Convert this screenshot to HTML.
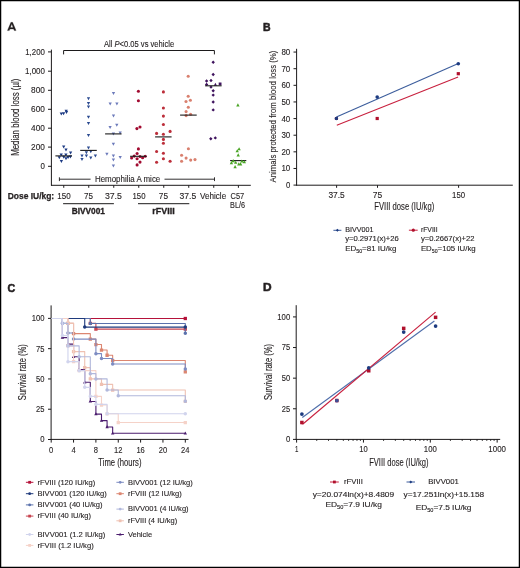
<!DOCTYPE html>
<html><head><meta charset="utf-8"><style>
html,body{margin:0;padding:0;background:#fff;}
body{width:520px;height:568px;overflow:hidden;}
svg{display:block;will-change:transform;}
text{font-family:"Liberation Sans", sans-serif;stroke:#231f20;stroke-width:0.12px;paint-order:stroke;}
</style></head><body>
<svg width="520" height="568" viewBox="0 0 520 568" font-family='"Liberation Sans", sans-serif' fill="#231f20">
<rect x="0" y="0" width="520" height="568" fill="#fff"/>
<path d="M7.4,30.6L10.9,22.3L12.6,22.3L16.1,30.6L14.2,30.6L13.55,29.1L9.95,29.1L9.3,30.6ZM10.45,27.6L13.05,27.6L11.75,24.1Z" fill="#231f20" fill-rule="evenodd" stroke="#231f20" stroke-width="0.25"/>
<line x1="51.40" y1="49.60" x2="51.40" y2="185.70" stroke="#1c1a1b" stroke-width="#1c1a1b"1.2/>
<line x1="48.00" y1="51.90" x2="51.40" y2="51.90" stroke="#1c1a1b" stroke-width="1"/>
<text x="44.90" y="54.85" font-size="8.6" text-anchor="end" textLength="19.70" lengthAdjust="spacingAndGlyphs">1,200</text>
<line x1="48.00" y1="71.20" x2="51.40" y2="71.20" stroke="#1c1a1b" stroke-width="1"/>
<text x="44.90" y="74.15" font-size="8.6" text-anchor="end" textLength="19.90" lengthAdjust="spacingAndGlyphs">1,000</text>
<line x1="48.00" y1="90.30" x2="51.40" y2="90.30" stroke="#1c1a1b" stroke-width="1"/>
<text x="44.90" y="93.25" font-size="8.6" text-anchor="end" textLength="13.80" lengthAdjust="spacingAndGlyphs">800</text>
<line x1="48.00" y1="109.30" x2="51.40" y2="109.30" stroke="#1c1a1b" stroke-width="1"/>
<text x="44.90" y="112.25" font-size="8.6" text-anchor="end" textLength="13.80" lengthAdjust="spacingAndGlyphs">600</text>
<line x1="48.00" y1="128.20" x2="51.40" y2="128.20" stroke="#1c1a1b" stroke-width="1"/>
<text x="44.90" y="131.15" font-size="8.6" text-anchor="end" textLength="13.80" lengthAdjust="spacingAndGlyphs">400</text>
<line x1="48.00" y1="147.10" x2="51.40" y2="147.10" stroke="#1c1a1b" stroke-width="1"/>
<text x="44.90" y="150.05" font-size="8.6" text-anchor="end" textLength="13.80" lengthAdjust="spacingAndGlyphs">200</text>
<line x1="48.00" y1="166.30" x2="51.40" y2="166.30" stroke="#1c1a1b" stroke-width="1"/>
<text x="44.90" y="169.25" font-size="8.6" text-anchor="end" textLength="4.40" lengthAdjust="spacingAndGlyphs">0</text>
<line x1="51.00" y1="185.30" x2="250.80" y2="185.30" stroke="#1c1a1b" stroke-width="#1c1a1b"1.2/>
<line x1="63.75" y1="185.30" x2="63.75" y2="187.80" stroke="#1c1a1b" stroke-width="1"/>
<line x1="88.75" y1="185.30" x2="88.75" y2="187.80" stroke="#1c1a1b" stroke-width="1"/>
<line x1="113.75" y1="185.30" x2="113.75" y2="187.80" stroke="#1c1a1b" stroke-width="1"/>
<line x1="138.75" y1="185.30" x2="138.75" y2="187.80" stroke="#1c1a1b" stroke-width="1"/>
<line x1="163.75" y1="185.30" x2="163.75" y2="187.80" stroke="#1c1a1b" stroke-width="1"/>
<line x1="188.75" y1="185.30" x2="188.75" y2="187.80" stroke="#1c1a1b" stroke-width="1"/>
<line x1="213.75" y1="185.30" x2="213.75" y2="187.80" stroke="#1c1a1b" stroke-width="1"/>
<line x1="238.40" y1="185.30" x2="238.40" y2="187.80" stroke="#1c1a1b" stroke-width="1"/>
<text x="18.90" y="117.25" font-size="10.1" text-anchor="middle" textLength="77.20" lengthAdjust="spacingAndGlyphs" transform="rotate(-90 18.90 117.25)">Median blood loss (µl)</text>
<path d="M63.6,54.4V50.5H214.4V54.4" stroke="#1c1a1b" stroke-width="1" fill="none"/>
<text x="103.90" y="47.30" font-size="8.5" textLength="70.30" lengthAdjust="spacingAndGlyphs">All <tspan font-style="italic">P</tspan>&lt;0.05 vs vehicle</text>
<path d="M59.4,177.3V181.1M59.4,179.2H90.6M164.5,179.2H214.5M214.5,177.3V181.1" stroke="#1c1a1b" stroke-width="0.9" fill="none"/>
<text x="94.90" y="182.10" font-size="8.6" textLength="65.40" lengthAdjust="spacingAndGlyphs">Hemophilia A mice</text>
<text x="7.70" y="198.50" font-size="8.3" font-weight="bold" textLength="46.50" lengthAdjust="spacingAndGlyphs" style="stroke-width:0.25px">Dose IU/kg:</text>
<text x="64.00" y="198.60" font-size="8.5" text-anchor="middle" textLength="13.40" lengthAdjust="spacingAndGlyphs">150</text>
<text x="88.60" y="198.60" font-size="8.5" text-anchor="middle" textLength="9.00" lengthAdjust="spacingAndGlyphs">75</text>
<text x="113.40" y="198.60" font-size="8.5" text-anchor="middle" textLength="17.00" lengthAdjust="spacingAndGlyphs">37.5</text>
<text x="139.00" y="198.60" font-size="8.5" text-anchor="middle" textLength="13.00" lengthAdjust="spacingAndGlyphs">150</text>
<text x="163.40" y="198.60" font-size="8.5" text-anchor="middle" textLength="9.20" lengthAdjust="spacingAndGlyphs">75</text>
<text x="187.90" y="198.60" font-size="8.5" text-anchor="middle" textLength="16.70" lengthAdjust="spacingAndGlyphs">37.5</text>
<text x="213.10" y="198.60" font-size="8.5" text-anchor="middle" textLength="26.20" lengthAdjust="spacingAndGlyphs">Vehicle</text>
<text x="237.40" y="198.60" font-size="8.5" text-anchor="middle" textLength="13.70" lengthAdjust="spacingAndGlyphs">C57</text>
<text x="237.60" y="207.80" font-size="8.5" text-anchor="middle" textLength="15.00" lengthAdjust="spacingAndGlyphs">BL/6</text>
<line x1="63.10" y1="203.70" x2="113.90" y2="203.70" stroke="#1c1a1b" stroke-width="1"/>
<line x1="138.00" y1="203.70" x2="189.30" y2="203.70" stroke="#1c1a1b" stroke-width="1"/>
<text x="88.30" y="213.50" font-size="8.2" font-weight="bold" text-anchor="middle" textLength="33.20" lengthAdjust="spacingAndGlyphs" style="stroke-width:0.3px">BIVV001</text>
<text x="163.50" y="213.50" font-size="8.2" font-weight="bold" text-anchor="middle" textLength="22.30" lengthAdjust="spacingAndGlyphs" style="stroke-width:0.3px">rFVIII</text>
<path d="M59.65,112.61L62.95,112.61L61.30,115.58ZM61.95,112.31L65.25,112.31L63.60,115.28ZM64.55,109.81L67.85,109.81L66.20,112.78ZM64.85,111.11L68.15,111.11L66.50,114.08ZM62.05,145.51L65.35,145.51L63.70,148.49ZM64.35,148.61L67.65,148.61L66.00,151.59ZM68.95,151.41L72.25,151.41L70.60,154.39ZM59.55,153.51L62.85,153.51L61.20,156.49ZM64.25,153.51L67.55,153.51L65.90,156.49ZM57.65,156.31L60.95,156.31L59.30,159.29ZM62.05,155.71L65.35,155.71L63.70,158.69ZM64.35,157.21L67.65,157.21L66.00,160.19ZM66.45,156.01L69.75,156.01L68.10,158.99ZM68.75,155.41L72.05,155.41L70.40,158.39ZM59.75,160.01L63.05,160.01L61.40,162.99Z" stroke="none" stroke-width="0" fill="#1d3b84"/>
<line x1="55.40" y1="155.90" x2="72.00" y2="155.90" stroke="#1a1a1a" stroke-width="1.1"/>
<path d="M86.85,97.22L90.15,97.22L88.50,100.19ZM86.85,102.02L90.15,102.02L88.50,104.98ZM86.85,105.52L90.15,105.52L88.50,108.48ZM86.85,115.81L90.15,115.81L88.50,118.78ZM86.85,121.92L90.15,121.92L88.50,124.89ZM86.85,134.11L90.15,134.11L88.50,137.09ZM86.85,146.41L90.15,146.41L88.50,149.39ZM89.15,150.31L92.45,150.31L90.80,153.29ZM84.75,151.31L88.05,151.31L86.40,154.29ZM80.35,154.51L83.65,154.51L82.00,157.49ZM84.75,154.51L88.05,154.51L86.40,157.49ZM93.75,154.51L97.05,154.51L95.40,157.49ZM80.35,158.01L83.65,158.01L82.00,160.99ZM89.15,156.61L92.45,156.61L90.80,159.59Z" stroke="none" stroke-width="0" fill="#2c4b91"/>
<line x1="80.20" y1="150.40" x2="96.80" y2="150.40" stroke="#1a1a1a" stroke-width="1.1"/>
<path d="M111.85,92.11L115.15,92.11L113.50,95.08ZM108.55,102.52L111.85,102.52L110.20,105.48ZM115.25,102.52L118.55,102.52L116.90,105.48ZM111.85,114.52L115.15,114.52L113.50,117.48ZM115.15,123.72L118.45,123.72L116.80,126.69ZM108.45,126.02L111.75,126.02L110.10,128.99ZM111.75,132.61L115.05,132.61L113.40,135.59ZM118.55,131.51L121.85,131.51L120.20,134.49ZM111.75,142.71L115.05,142.71L113.40,145.69ZM105.25,152.81L108.55,152.81L106.90,155.79ZM111.75,154.41L115.05,154.41L113.40,157.39ZM118.55,155.91L121.85,155.91L120.20,158.89ZM111.75,158.61L115.05,158.61L113.40,161.59ZM111.75,164.51L115.05,164.51L113.40,167.49Z" stroke="none" stroke-width="0" fill="#6d7bbb"/>
<line x1="105.10" y1="133.90" x2="121.60" y2="133.90" stroke="#1a1a1a" stroke-width="1.1"/>
<circle cx="138.40" cy="91.30" r="1.55" fill="#a10a30"/>
<circle cx="138.40" cy="100.70" r="1.55" fill="#a10a30"/>
<circle cx="140.00" cy="127.00" r="1.55" fill="#a10a30"/>
<circle cx="136.90" cy="128.60" r="1.55" fill="#a10a30"/>
<circle cx="138.40" cy="148.90" r="1.55" fill="#a10a30"/>
<circle cx="137.10" cy="153.50" r="1.55" fill="#a10a30"/>
<circle cx="134.20" cy="156.10" r="1.55" fill="#a10a30"/>
<circle cx="131.60" cy="158.00" r="1.55" fill="#a10a30"/>
<circle cx="137.10" cy="158.70" r="1.55" fill="#a10a30"/>
<circle cx="140.00" cy="156.50" r="1.55" fill="#a10a30"/>
<circle cx="142.60" cy="157.70" r="1.55" fill="#a10a30"/>
<circle cx="145.20" cy="156.30" r="1.55" fill="#a10a30"/>
<circle cx="140.00" cy="162.10" r="1.55" fill="#a10a30"/>
<circle cx="137.10" cy="164.90" r="1.55" fill="#a10a30"/>
<line x1="130.10" y1="156.30" x2="146.60" y2="156.30" stroke="#1a1a1a" stroke-width="1.1"/>
<circle cx="163.40" cy="91.90" r="1.55" fill="#bc2e3a"/>
<circle cx="163.40" cy="108.00" r="1.55" fill="#bc2e3a"/>
<circle cx="163.40" cy="116.10" r="1.55" fill="#bc2e3a"/>
<circle cx="163.40" cy="124.50" r="1.55" fill="#bc2e3a"/>
<circle cx="170.10" cy="131.40" r="1.55" fill="#bc2e3a"/>
<circle cx="156.60" cy="133.40" r="1.55" fill="#bc2e3a"/>
<circle cx="163.40" cy="134.30" r="1.55" fill="#bc2e3a"/>
<circle cx="163.40" cy="139.40" r="1.55" fill="#bc2e3a"/>
<circle cx="163.40" cy="143.30" r="1.55" fill="#bc2e3a"/>
<circle cx="156.60" cy="151.50" r="1.55" fill="#bc2e3a"/>
<circle cx="163.40" cy="153.30" r="1.55" fill="#bc2e3a"/>
<circle cx="163.40" cy="158.70" r="1.55" fill="#bc2e3a"/>
<circle cx="156.60" cy="162.30" r="1.55" fill="#bc2e3a"/>
<circle cx="170.10" cy="161.20" r="1.55" fill="#bc2e3a"/>
<line x1="155.10" y1="136.90" x2="171.60" y2="136.90" stroke="#1a1a1a" stroke-width="1.1"/>
<circle cx="188.20" cy="76.30" r="1.55" fill="#d9806f"/>
<circle cx="188.20" cy="96.30" r="1.55" fill="#d9806f"/>
<circle cx="190.40" cy="100.20" r="1.55" fill="#d9806f"/>
<circle cx="186.00" cy="101.50" r="1.55" fill="#d9806f"/>
<circle cx="188.30" cy="107.20" r="1.55" fill="#d9806f"/>
<circle cx="186.10" cy="111.60" r="1.55" fill="#d9806f"/>
<circle cx="190.60" cy="114.20" r="1.55" fill="#d9806f"/>
<circle cx="186.10" cy="115.60" r="1.55" fill="#d9806f"/>
<circle cx="188.40" cy="148.80" r="1.55" fill="#d9806f"/>
<circle cx="181.60" cy="155.30" r="1.55" fill="#d9806f"/>
<circle cx="186.10" cy="158.10" r="1.55" fill="#d9806f"/>
<circle cx="190.70" cy="160.10" r="1.55" fill="#d9806f"/>
<circle cx="195.00" cy="159.60" r="1.55" fill="#d9806f"/>
<circle cx="181.60" cy="161.30" r="1.55" fill="#d9806f"/>
<line x1="180.10" y1="115.10" x2="196.70" y2="115.10" stroke="#1a1a1a" stroke-width="1.1"/>
<path d="M213.20,60.50L214.90,62.20L213.20,63.90L211.50,62.20ZM213.20,72.80L214.90,74.50L213.20,76.20L211.50,74.50ZM206.60,79.30L208.30,81.00L206.60,82.70L204.90,81.00ZM211.00,78.80L212.70,80.50L211.00,82.20L209.30,80.50ZM206.60,82.80L208.30,84.50L206.60,86.20L204.90,84.50ZM213.80,85.74L217.00,85.74L215.40,82.86ZM218.70,82.50h2.8v2.8h-2.8ZM211.00,85.40L212.70,87.10L211.00,88.80L209.30,87.10ZM213.20,89.00L214.90,90.70L213.20,92.40L211.50,90.70ZM213.20,93.40L214.90,95.10L213.20,96.80L211.50,95.10ZM213.20,100.30L214.90,102.00L213.20,103.70L211.50,102.00ZM213.20,108.20L214.90,109.90L213.20,111.60L211.50,109.90ZM210.80,137.10L212.50,138.80L210.80,140.50L209.10,138.80ZM215.30,136.20L217.00,137.90L215.30,139.60L213.60,137.90Z" stroke="none" stroke-width="0" fill="#40145f"/>
<line x1="205.10" y1="85.80" x2="221.60" y2="85.80" stroke="#1a1a1a" stroke-width="1.1"/>
<line x1="230.10" y1="160.60" x2="246.30" y2="160.60" stroke="#1a1a1a" stroke-width="1.1"/>
<path d="M236.20,106.43L239.60,106.43L237.90,103.37ZM237.40,150.23L240.80,150.23L239.10,147.17ZM235.50,152.33L238.90,152.33L237.20,149.27ZM236.50,156.43L239.90,156.43L238.20,153.37ZM229.70,164.13L233.10,164.13L231.40,161.07ZM231.50,162.13L234.90,162.13L233.20,159.07ZM234.00,163.83L237.40,163.83L235.70,160.77ZM237.10,165.43L240.50,165.43L238.80,162.37ZM238.90,165.43L242.30,165.43L240.60,162.37ZM240.20,162.53L243.60,162.53L241.90,159.47ZM242.60,163.23L246.00,163.23L244.30,160.17ZM233.40,168.13L236.80,168.13L235.10,165.07Z" stroke="none" stroke-width="0" fill="#4aa526"/>
<text x="263.00" y="30.70" font-size="11.5" font-weight="bold" textLength="7.60" lengthAdjust="spacingAndGlyphs" style="stroke-width:0.55px">B</text>
<line x1="296.60" y1="48.80" x2="296.60" y2="185.60" stroke="#1c1a1b" stroke-width="#1c1a1b"1.2/>
<line x1="293.50" y1="185.10" x2="296.60" y2="185.10" stroke="#1c1a1b" stroke-width="1"/>
<text x="290.30" y="188.05" font-size="8.6" text-anchor="end" textLength="4.30" lengthAdjust="spacingAndGlyphs">0</text>
<line x1="293.50" y1="168.47" x2="296.60" y2="168.47" stroke="#1c1a1b" stroke-width="1"/>
<text x="290.30" y="171.42" font-size="8.6" text-anchor="end" textLength="8.90" lengthAdjust="spacingAndGlyphs">10</text>
<line x1="293.50" y1="151.84" x2="296.60" y2="151.84" stroke="#1c1a1b" stroke-width="1"/>
<text x="290.30" y="154.79" font-size="8.6" text-anchor="end" textLength="8.90" lengthAdjust="spacingAndGlyphs">20</text>
<line x1="293.50" y1="135.21" x2="296.60" y2="135.21" stroke="#1c1a1b" stroke-width="1"/>
<text x="290.30" y="138.16" font-size="8.6" text-anchor="end" textLength="8.90" lengthAdjust="spacingAndGlyphs">30</text>
<line x1="293.50" y1="118.58" x2="296.60" y2="118.58" stroke="#1c1a1b" stroke-width="1"/>
<text x="290.30" y="121.53" font-size="8.6" text-anchor="end" textLength="8.90" lengthAdjust="spacingAndGlyphs">40</text>
<line x1="293.50" y1="101.95" x2="296.60" y2="101.95" stroke="#1c1a1b" stroke-width="1"/>
<text x="290.30" y="104.90" font-size="8.6" text-anchor="end" textLength="8.90" lengthAdjust="spacingAndGlyphs">50</text>
<line x1="293.50" y1="85.32" x2="296.60" y2="85.32" stroke="#1c1a1b" stroke-width="1"/>
<text x="290.30" y="88.27" font-size="8.6" text-anchor="end" textLength="8.90" lengthAdjust="spacingAndGlyphs">60</text>
<line x1="293.50" y1="68.69" x2="296.60" y2="68.69" stroke="#1c1a1b" stroke-width="1"/>
<text x="290.30" y="71.64" font-size="8.6" text-anchor="end" textLength="8.90" lengthAdjust="spacingAndGlyphs">70</text>
<line x1="293.50" y1="52.06" x2="296.60" y2="52.06" stroke="#1c1a1b" stroke-width="1"/>
<text x="290.30" y="55.01" font-size="8.6" text-anchor="end" textLength="8.90" lengthAdjust="spacingAndGlyphs">80</text>
<line x1="296.10" y1="185.20" x2="512.80" y2="185.20" stroke="#1c1a1b" stroke-width="#1c1a1b"1.2/>
<line x1="336.60" y1="185.20" x2="336.60" y2="187.80" stroke="#1c1a1b" stroke-width="1"/>
<text x="336.60" y="198.40" font-size="8.6" text-anchor="middle" textLength="16.30" lengthAdjust="spacingAndGlyphs">37.5</text>
<line x1="377.50" y1="185.20" x2="377.50" y2="187.80" stroke="#1c1a1b" stroke-width="1"/>
<text x="377.50" y="198.40" font-size="8.6" text-anchor="middle" textLength="9.40" lengthAdjust="spacingAndGlyphs">75</text>
<line x1="458.60" y1="185.20" x2="458.60" y2="187.80" stroke="#1c1a1b" stroke-width="1"/>
<text x="458.60" y="198.40" font-size="8.6" text-anchor="middle" textLength="13.00" lengthAdjust="spacingAndGlyphs">150</text>
<text x="374.30" y="210.30" font-size="10.0" textLength="59.90" lengthAdjust="spacingAndGlyphs">FVIII dose (IU/kg)</text>
<text x="275.80" y="116.55" font-size="9.8" text-anchor="middle" textLength="131.80" lengthAdjust="spacingAndGlyphs" transform="rotate(-90 275.80 116.55)">Animals protected from blood loss (%)</text>
<line x1="336.40" y1="116.90" x2="458.30" y2="63.60" stroke="#3c5d9c" stroke-width="1.1"/>
<line x1="336.80" y1="125.30" x2="458.10" y2="77.10" stroke="#c8203e" stroke-width="1.1"/>
<rect x="334.90" y="117.00" width="3" height="3" fill="#b0102c"/>
<rect x="375.60" y="116.90" width="3.2" height="3.2" fill="#b0102c"/>
<rect x="456.70" y="72.10" width="3.2" height="3.2" fill="#b0102c"/>
<circle cx="336.4" cy="118.5" r="1.7" fill="#1d3b80"/><circle cx="377.2" cy="97.1" r="1.8" fill="#1d3b80"/><circle cx="458.3" cy="63.7" r="1.8" fill="#1d3b80"/>
<line x1="333.40" y1="230.30" x2="341.40" y2="230.30" stroke="#3c5d9c" stroke-width="1"/>
<path d="M337.40,228.80L338.90,230.30L337.40,231.80L335.90,230.30Z" stroke="none" stroke-width="0" fill="#1d3b80"/>
<text x="345.20" y="232.20" font-size="6.9" textLength="28.30" lengthAdjust="spacingAndGlyphs">BIVV001</text>
<text x="345.20" y="241.30" font-size="6.9" textLength="53.60" lengthAdjust="spacingAndGlyphs">y=0.2971(x)+26</text>
<text x="345.20" y="251.10" font-size="6.9" textLength="51.10" lengthAdjust="spacingAndGlyphs">ED<tspan font-size="4.6" dy="1.6">50</tspan><tspan dy="-1.6">=81 IU/kg</tspan></text>
<line x1="408.90" y1="230.20" x2="417.70" y2="230.20" stroke="#c8203e" stroke-width="1"/>
<circle cx="413.3" cy="230.2" r="1.6" fill="#b0102c"/>
<text x="420.90" y="232.20" font-size="6.9" textLength="16.70" lengthAdjust="spacingAndGlyphs">rFVIII</text>
<text x="420.90" y="241.30" font-size="6.9" textLength="53.60" lengthAdjust="spacingAndGlyphs">y=0.2667(x)+22</text>
<text x="420.90" y="251.10" font-size="6.9" textLength="54.80" lengthAdjust="spacingAndGlyphs">ED<tspan font-size="4.6" dy="1.6">50</tspan><tspan dy="-1.6">=105 IU/kg</tspan></text>
<text x="7.40" y="291.50" font-size="11.5" font-weight="bold" textLength="7.70" lengthAdjust="spacingAndGlyphs" style="stroke-width:0.55px">C</text>
<line x1="51.10" y1="305.40" x2="51.10" y2="439.90" stroke="#1c1a1b" stroke-width="#1c1a1b"1.2/>
<line x1="48.00" y1="439.50" x2="51.10" y2="439.50" stroke="#1c1a1b" stroke-width="1"/>
<text x="44.50" y="442.45" font-size="8.6" text-anchor="end" textLength="4.30" lengthAdjust="spacingAndGlyphs">0</text>
<line x1="48.00" y1="409.22" x2="51.10" y2="409.22" stroke="#1c1a1b" stroke-width="1"/>
<text x="44.50" y="412.17" font-size="8.6" text-anchor="end" textLength="8.40" lengthAdjust="spacingAndGlyphs">25</text>
<line x1="48.00" y1="378.94" x2="51.10" y2="378.94" stroke="#1c1a1b" stroke-width="1"/>
<text x="44.50" y="381.89" font-size="8.6" text-anchor="end" textLength="8.40" lengthAdjust="spacingAndGlyphs">50</text>
<line x1="48.00" y1="348.66" x2="51.10" y2="348.66" stroke="#1c1a1b" stroke-width="1"/>
<text x="44.50" y="351.61" font-size="8.6" text-anchor="end" textLength="8.40" lengthAdjust="spacingAndGlyphs">75</text>
<line x1="48.00" y1="318.38" x2="51.10" y2="318.38" stroke="#1c1a1b" stroke-width="1"/>
<text x="44.50" y="321.33" font-size="8.6" text-anchor="end" textLength="12.80" lengthAdjust="spacingAndGlyphs">100</text>
<line x1="50.60" y1="439.40" x2="188.50" y2="439.40" stroke="#1c1a1b" stroke-width="#1c1a1b"1.2/>
<line x1="51.20" y1="439.40" x2="51.20" y2="442.60" stroke="#1c1a1b" stroke-width="1"/>
<text x="51.20" y="452.50" font-size="8.6" text-anchor="middle" textLength="4.20" lengthAdjust="spacingAndGlyphs">0</text>
<line x1="73.55" y1="439.40" x2="73.55" y2="442.60" stroke="#1c1a1b" stroke-width="1"/>
<text x="73.55" y="452.50" font-size="8.6" text-anchor="middle" textLength="4.20" lengthAdjust="spacingAndGlyphs">4</text>
<line x1="95.90" y1="439.40" x2="95.90" y2="442.60" stroke="#1c1a1b" stroke-width="1"/>
<text x="95.90" y="452.50" font-size="8.6" text-anchor="middle" textLength="4.20" lengthAdjust="spacingAndGlyphs">8</text>
<line x1="118.25" y1="439.40" x2="118.25" y2="442.60" stroke="#1c1a1b" stroke-width="1"/>
<text x="118.25" y="452.50" font-size="8.6" text-anchor="middle" textLength="8.40" lengthAdjust="spacingAndGlyphs">12</text>
<line x1="140.60" y1="439.40" x2="140.60" y2="442.60" stroke="#1c1a1b" stroke-width="1"/>
<text x="140.60" y="452.50" font-size="8.6" text-anchor="middle" textLength="8.40" lengthAdjust="spacingAndGlyphs">16</text>
<line x1="162.95" y1="439.40" x2="162.95" y2="442.60" stroke="#1c1a1b" stroke-width="1"/>
<text x="162.95" y="452.50" font-size="8.6" text-anchor="middle" textLength="8.40" lengthAdjust="spacingAndGlyphs">20</text>
<line x1="185.30" y1="439.40" x2="185.30" y2="442.60" stroke="#1c1a1b" stroke-width="1"/>
<text x="185.30" y="452.50" font-size="8.6" text-anchor="middle" textLength="8.40" lengthAdjust="spacingAndGlyphs">24</text>
<text x="98.30" y="466.00" font-size="10.0" textLength="43.20" lengthAdjust="spacingAndGlyphs">Time (hours)</text>
<text x="25.80" y="372.20" font-size="10.1" text-anchor="middle" textLength="55.90" lengthAdjust="spacingAndGlyphs" transform="rotate(-90 25.80 372.20)">Survival rate (%)</text>
<path d="M62.38,318.50H62.38V337.66H67.96V344.08H73.55V356.81H79.14V369.55H84.73V382.28H90.31V401.44H95.90V414.17H101.49V420.59H107.08V427.02H112.66V433.32H185.30" stroke="#4b1c6e" stroke-width="1.1" fill="none" stroke-linejoin="round"/>
<path d="M60.67,338.79L64.08,338.79L62.38,335.73ZM66.26,345.21L69.66,345.21L67.96,342.15ZM71.85,357.94L75.25,357.94L73.55,354.89ZM77.44,370.68L80.84,370.68L79.14,367.62ZM83.03,383.41L86.43,383.41L84.73,380.35ZM88.61,402.56L92.01,402.56L90.31,399.51ZM94.20,415.30L97.60,415.30L95.90,412.24ZM99.79,421.72L103.19,421.72L101.49,418.66ZM105.38,428.15L108.78,428.15L107.08,425.09ZM110.96,434.45L114.36,434.45L112.66,431.39ZM183.60,434.45L187.00,434.45L185.30,431.39Z" stroke="none" stroke-width="0" fill="#4b1c6e"/>
<path d="M90.31,318.50H185.30V318.50" stroke="#b5123a" stroke-width="1.1" fill="none" stroke-linejoin="round"/>
<path d="M183.65,316.85h3.3v3.3h-3.3Z" stroke="none" stroke-width="0" fill="#b5123a"/>
<path d="M90.31,318.50H90.31V323.35H95.90V329.11H185.30V329.11" stroke="#c7434f" stroke-width="1.1" fill="none" stroke-linejoin="round"/>
<path d="M88.66,321.70h3.3v3.3h-3.3ZM94.25,327.46h3.3v3.3h-3.3ZM183.65,327.46h3.3v3.3h-3.3Z" stroke="none" stroke-width="0" fill="#c7434f"/>
<path d="M84.73,318.50H90.31V323.47H185.30V333.17" stroke="#5a71ac" stroke-width="1.1" fill="none" stroke-linejoin="round"/>
<path d="M88.56,323.47a1.75,1.75 0 1,0 3.5,0a1.75,1.75 0 1,0 -3.5,0ZM183.55,333.17a1.75,1.75 0 1,0 3.5,0a1.75,1.75 0 1,0 -3.5,0Z" stroke="none" stroke-width="0" fill="#5a71ac"/>
<path d="M67.96,318.50H84.73V327.11H185.30V327.11" stroke="#1f3a7c" stroke-width="1.1" fill="none" stroke-linejoin="round"/>
<path d="M82.98,327.11a1.75,1.75 0 1,0 3.5,0a1.75,1.75 0 1,0 -3.5,0ZM183.55,327.11a1.75,1.75 0 1,0 3.5,0a1.75,1.75 0 1,0 -3.5,0Z" stroke="none" stroke-width="0" fill="#1f3a7c"/>
<path d="M67.96,318.50H67.96V323.35H73.55V333.66H90.31V339.11H95.90V344.57H101.49V350.02H107.08V355.24H112.66V360.57H185.30V371.85" stroke="#dc8671" stroke-width="1.1" fill="none" stroke-linejoin="round"/>
<path d="M66.31,321.70h3.3v3.3h-3.3ZM71.90,332.01h3.3v3.3h-3.3ZM88.66,337.46h3.3v3.3h-3.3ZM94.25,342.92h3.3v3.3h-3.3ZM99.84,348.38h3.3v3.3h-3.3ZM105.42,353.59h3.3v3.3h-3.3ZM111.01,358.92h3.3v3.3h-3.3ZM183.65,370.20h3.3v3.3h-3.3Z" stroke="none" stroke-width="0" fill="#dc8671"/>
<path d="M62.38,318.50H62.38V323.35H67.96V333.05H73.55V339.11H95.90V353.66H101.49V358.51H112.66V363.97H185.30V369.06" stroke="#7d8cc2" stroke-width="1.1" fill="none" stroke-linejoin="round"/>
<path d="M60.62,323.35a1.75,1.75 0 1,0 3.5,0a1.75,1.75 0 1,0 -3.5,0ZM66.21,333.05a1.75,1.75 0 1,0 3.5,0a1.75,1.75 0 1,0 -3.5,0ZM71.80,339.11a1.75,1.75 0 1,0 3.5,0a1.75,1.75 0 1,0 -3.5,0ZM94.15,353.66a1.75,1.75 0 1,0 3.5,0a1.75,1.75 0 1,0 -3.5,0ZM99.74,358.51a1.75,1.75 0 1,0 3.5,0a1.75,1.75 0 1,0 -3.5,0ZM110.91,363.97a1.75,1.75 0 1,0 3.5,0a1.75,1.75 0 1,0 -3.5,0ZM183.55,369.06a1.75,1.75 0 1,0 3.5,0a1.75,1.75 0 1,0 -3.5,0Z" stroke="none" stroke-width="0" fill="#7d8cc2"/>
<path d="M67.96,318.50H67.96V323.35H73.55V351.60H84.73V367.61H90.31V378.88H101.49V384.34H112.66V390.04H185.30V401.31" stroke="#efc1b2" stroke-width="1.1" fill="none" stroke-linejoin="round"/>
<path d="M66.31,321.70h3.3v3.3h-3.3ZM71.90,349.95h3.3v3.3h-3.3ZM83.08,365.96h3.3v3.3h-3.3ZM88.66,377.23h3.3v3.3h-3.3ZM99.84,382.69h3.3v3.3h-3.3ZM111.01,388.39h3.3v3.3h-3.3ZM183.65,399.66h3.3v3.3h-3.3Z" stroke="none" stroke-width="0" fill="#efc1b2"/>
<path d="M62.38,318.50H67.96V345.90H73.55V361.66H79.14V370.64H95.90V396.34H101.49V405.07H107.08V413.80H118.25V422.53H185.30" stroke="#f5d2c8" stroke-width="1.1" fill="none" stroke-linejoin="round"/>
<path d="M66.31,344.25h3.3v3.3h-3.3ZM71.90,360.01h3.3v3.3h-3.3ZM77.49,368.99h3.3v3.3h-3.3ZM94.25,394.69h3.3v3.3h-3.3ZM99.84,403.42h3.3v3.3h-3.3ZM105.42,412.15h3.3v3.3h-3.3ZM116.60,420.88h3.3v3.3h-3.3ZM183.65,420.88h3.3v3.3h-3.3Z" stroke="none" stroke-width="0" fill="#f5d2c8"/>
<path d="M62.38,318.50H62.38V323.35H67.96V345.90H79.14V356.69H90.31V373.67H95.90V378.88H107.08V390.04H118.25V395.74H185.30V401.31" stroke="#b1b8dc" stroke-width="1.1" fill="none" stroke-linejoin="round"/>
<path d="M60.62,323.35a1.75,1.75 0 1,0 3.5,0a1.75,1.75 0 1,0 -3.5,0ZM66.21,345.90a1.75,1.75 0 1,0 3.5,0a1.75,1.75 0 1,0 -3.5,0ZM77.39,356.69a1.75,1.75 0 1,0 3.5,0a1.75,1.75 0 1,0 -3.5,0ZM88.56,373.67a1.75,1.75 0 1,0 3.5,0a1.75,1.75 0 1,0 -3.5,0ZM94.15,378.88a1.75,1.75 0 1,0 3.5,0a1.75,1.75 0 1,0 -3.5,0ZM105.33,390.04a1.75,1.75 0 1,0 3.5,0a1.75,1.75 0 1,0 -3.5,0ZM116.50,395.74a1.75,1.75 0 1,0 3.5,0a1.75,1.75 0 1,0 -3.5,0ZM183.55,401.31a1.75,1.75 0 1,0 3.5,0a1.75,1.75 0 1,0 -3.5,0Z" stroke="none" stroke-width="0" fill="#b1b8dc"/>
<path d="M51.20,318.50H62.38V335.48H67.96V361.66H79.14V370.64H84.73V387.37H90.31V396.34H95.90V404.35H107.08V413.80H185.30" stroke="#d1d4ed" stroke-width="1.1" fill="none" stroke-linejoin="round"/>
<path d="M60.62,335.48a1.75,1.75 0 1,0 3.5,0a1.75,1.75 0 1,0 -3.5,0ZM66.21,361.66a1.75,1.75 0 1,0 3.5,0a1.75,1.75 0 1,0 -3.5,0ZM77.39,370.64a1.75,1.75 0 1,0 3.5,0a1.75,1.75 0 1,0 -3.5,0ZM82.98,387.37a1.75,1.75 0 1,0 3.5,0a1.75,1.75 0 1,0 -3.5,0ZM88.56,396.34a1.75,1.75 0 1,0 3.5,0a1.75,1.75 0 1,0 -3.5,0ZM94.15,404.35a1.75,1.75 0 1,0 3.5,0a1.75,1.75 0 1,0 -3.5,0ZM105.33,413.80a1.75,1.75 0 1,0 3.5,0a1.75,1.75 0 1,0 -3.5,0ZM183.55,413.80a1.75,1.75 0 1,0 3.5,0a1.75,1.75 0 1,0 -3.5,0Z" stroke="none" stroke-width="0" fill="#d1d4ed"/>
<line x1="25.90" y1="482.30" x2="33.40" y2="482.30" stroke="#b5123a" stroke-width="1"/>
<rect x="28.25" y="480.90" width="2.8" height="2.8" fill="#b5123a"/>
<text x="37.40" y="484.65" font-size="8.0" textLength="57.80" lengthAdjust="spacingAndGlyphs">rFVIII (120 IU/kg)</text>
<line x1="25.90" y1="493.70" x2="33.40" y2="493.70" stroke="#1f3a7c" stroke-width="1"/>
<circle cx="29.65" cy="493.70" r="1.4" fill="#1f3a7c"/>
<text x="37.40" y="496.05" font-size="8.0" textLength="69.40" lengthAdjust="spacingAndGlyphs">BIVV001 (120 IU/kg)</text>
<line x1="25.90" y1="504.90" x2="33.40" y2="504.90" stroke="#5a71ac" stroke-width="1"/>
<circle cx="29.65" cy="504.90" r="1.4" fill="#5a71ac"/>
<text x="37.40" y="507.25" font-size="8.0" textLength="65.20" lengthAdjust="spacingAndGlyphs">BIVV001 (40 IU/kg)</text>
<line x1="25.90" y1="516.10" x2="33.40" y2="516.10" stroke="#c7434f" stroke-width="1"/>
<rect x="28.25" y="514.70" width="2.8" height="2.8" fill="#c7434f"/>
<text x="37.40" y="518.45" font-size="8.0" textLength="53.60" lengthAdjust="spacingAndGlyphs">rFVIII (40 IU/kg)</text>
<line x1="25.90" y1="534.50" x2="33.40" y2="534.50" stroke="#d1d4ed" stroke-width="1"/>
<circle cx="29.65" cy="534.50" r="1.4" fill="#d1d4ed"/>
<text x="37.40" y="536.85" font-size="8.0" textLength="67.90" lengthAdjust="spacingAndGlyphs">BIVV001 (1.2 IU/kg)</text>
<line x1="25.90" y1="545.40" x2="33.40" y2="545.40" stroke="#f5d2c8" stroke-width="1"/>
<rect x="28.25" y="544.00" width="2.8" height="2.8" fill="#f5d2c8"/>
<text x="37.40" y="547.75" font-size="8.0" textLength="56.30" lengthAdjust="spacingAndGlyphs">rFVIII (1.2 IU/kg)</text>
<line x1="116.40" y1="482.30" x2="123.90" y2="482.30" stroke="#7d8cc2" stroke-width="1"/>
<circle cx="120.15" cy="482.30" r="1.4" fill="#7d8cc2"/>
<text x="127.90" y="484.65" font-size="8.0" textLength="64.90" lengthAdjust="spacingAndGlyphs">BIVV001 (12 IU/kg)</text>
<line x1="116.40" y1="493.70" x2="123.90" y2="493.70" stroke="#dc8671" stroke-width="1"/>
<rect x="118.75" y="492.30" width="2.8" height="2.8" fill="#dc8671"/>
<text x="127.90" y="496.05" font-size="8.0" textLength="53.90" lengthAdjust="spacingAndGlyphs">rFVIII (12 IU/kg)</text>
<line x1="116.40" y1="509.10" x2="123.90" y2="509.10" stroke="#b1b8dc" stroke-width="1"/>
<circle cx="120.15" cy="509.10" r="1.4" fill="#b1b8dc"/>
<text x="127.90" y="511.45" font-size="8.0" textLength="60.70" lengthAdjust="spacingAndGlyphs">BIVV001 (4 IU/kg)</text>
<line x1="116.40" y1="520.80" x2="123.90" y2="520.80" stroke="#efc1b2" stroke-width="1"/>
<rect x="118.75" y="519.40" width="2.8" height="2.8" fill="#efc1b2"/>
<text x="127.90" y="523.15" font-size="8.0" textLength="49.30" lengthAdjust="spacingAndGlyphs">rFVIII (4 IU/kg)</text>
<line x1="116.40" y1="534.50" x2="123.90" y2="534.50" stroke="#4b1c6e" stroke-width="1"/>
<path d="M118.65,535.55L121.65,535.55L120.15,532.85Z" stroke="none" stroke-width="0" fill="#4b1c6e"/>
<text x="127.90" y="536.85" font-size="8.0" textLength="24.20" lengthAdjust="spacingAndGlyphs">Vehicle</text>
<text x="262.90" y="291.30" font-size="11.5" font-weight="bold" textLength="8.60" lengthAdjust="spacingAndGlyphs" style="stroke-width:0.55px">D</text>
<line x1="296.20" y1="305.20" x2="296.20" y2="439.90" stroke="#1c1a1b" stroke-width="#1c1a1b"1.2/>
<line x1="293.00" y1="439.40" x2="296.20" y2="439.40" stroke="#1c1a1b" stroke-width="1"/>
<text x="290.20" y="442.35" font-size="8.6" text-anchor="end" textLength="4.30" lengthAdjust="spacingAndGlyphs">0</text>
<line x1="293.00" y1="408.78" x2="296.20" y2="408.78" stroke="#1c1a1b" stroke-width="1"/>
<text x="290.20" y="411.73" font-size="8.6" text-anchor="end" textLength="8.40" lengthAdjust="spacingAndGlyphs">25</text>
<line x1="293.00" y1="378.16" x2="296.20" y2="378.16" stroke="#1c1a1b" stroke-width="1"/>
<text x="290.20" y="381.11" font-size="8.6" text-anchor="end" textLength="8.40" lengthAdjust="spacingAndGlyphs">50</text>
<line x1="293.00" y1="347.54" x2="296.20" y2="347.54" stroke="#1c1a1b" stroke-width="1"/>
<text x="290.20" y="350.49" font-size="8.6" text-anchor="end" textLength="8.40" lengthAdjust="spacingAndGlyphs">75</text>
<line x1="293.00" y1="316.92" x2="296.20" y2="316.92" stroke="#1c1a1b" stroke-width="1"/>
<text x="290.20" y="319.87" font-size="8.6" text-anchor="end" textLength="12.90" lengthAdjust="spacingAndGlyphs">100</text>
<line x1="295.70" y1="439.40" x2="500.20" y2="439.40" stroke="#1c1a1b" stroke-width="#1c1a1b"1.2/>
<line x1="316.72" y1="439.40" x2="316.72" y2="441.00" stroke="#1c1a1b" stroke-width="0.8"/>
<line x1="328.50" y1="439.40" x2="328.50" y2="441.00" stroke="#1c1a1b" stroke-width="0.8"/>
<line x1="336.85" y1="439.40" x2="336.85" y2="441.00" stroke="#1c1a1b" stroke-width="0.8"/>
<line x1="343.33" y1="439.40" x2="343.33" y2="441.00" stroke="#1c1a1b" stroke-width="0.8"/>
<line x1="348.62" y1="439.40" x2="348.62" y2="441.00" stroke="#1c1a1b" stroke-width="0.8"/>
<line x1="353.09" y1="439.40" x2="353.09" y2="441.00" stroke="#1c1a1b" stroke-width="0.8"/>
<line x1="356.97" y1="439.40" x2="356.97" y2="441.00" stroke="#1c1a1b" stroke-width="0.8"/>
<line x1="360.39" y1="439.40" x2="360.39" y2="441.00" stroke="#1c1a1b" stroke-width="0.8"/>
<line x1="383.57" y1="439.40" x2="383.57" y2="441.00" stroke="#1c1a1b" stroke-width="0.8"/>
<line x1="395.35" y1="439.40" x2="395.35" y2="441.00" stroke="#1c1a1b" stroke-width="0.8"/>
<line x1="403.70" y1="439.40" x2="403.70" y2="441.00" stroke="#1c1a1b" stroke-width="0.8"/>
<line x1="410.18" y1="439.40" x2="410.18" y2="441.00" stroke="#1c1a1b" stroke-width="0.8"/>
<line x1="415.47" y1="439.40" x2="415.47" y2="441.00" stroke="#1c1a1b" stroke-width="0.8"/>
<line x1="419.94" y1="439.40" x2="419.94" y2="441.00" stroke="#1c1a1b" stroke-width="0.8"/>
<line x1="423.82" y1="439.40" x2="423.82" y2="441.00" stroke="#1c1a1b" stroke-width="0.8"/>
<line x1="427.24" y1="439.40" x2="427.24" y2="441.00" stroke="#1c1a1b" stroke-width="0.8"/>
<line x1="450.42" y1="439.40" x2="450.42" y2="441.00" stroke="#1c1a1b" stroke-width="0.8"/>
<line x1="462.20" y1="439.40" x2="462.20" y2="441.00" stroke="#1c1a1b" stroke-width="0.8"/>
<line x1="470.55" y1="439.40" x2="470.55" y2="441.00" stroke="#1c1a1b" stroke-width="0.8"/>
<line x1="477.03" y1="439.40" x2="477.03" y2="441.00" stroke="#1c1a1b" stroke-width="0.8"/>
<line x1="482.32" y1="439.40" x2="482.32" y2="441.00" stroke="#1c1a1b" stroke-width="0.8"/>
<line x1="486.79" y1="439.40" x2="486.79" y2="441.00" stroke="#1c1a1b" stroke-width="0.8"/>
<line x1="490.67" y1="439.40" x2="490.67" y2="441.00" stroke="#1c1a1b" stroke-width="0.8"/>
<line x1="494.09" y1="439.40" x2="494.09" y2="441.00" stroke="#1c1a1b" stroke-width="0.8"/>
<line x1="296.60" y1="439.40" x2="296.60" y2="442.60" stroke="#1c1a1b" stroke-width="1"/>
<text x="296.60" y="452.30" font-size="8.6" text-anchor="middle" textLength="3.40" lengthAdjust="spacingAndGlyphs">1</text>
<line x1="363.45" y1="439.40" x2="363.45" y2="442.60" stroke="#1c1a1b" stroke-width="1"/>
<text x="363.45" y="452.30" font-size="8.6" text-anchor="middle" textLength="8.40" lengthAdjust="spacingAndGlyphs">10</text>
<line x1="430.30" y1="439.40" x2="430.30" y2="442.60" stroke="#1c1a1b" stroke-width="1"/>
<text x="430.30" y="452.30" font-size="8.6" text-anchor="middle" textLength="13.00" lengthAdjust="spacingAndGlyphs">100</text>
<line x1="497.15" y1="439.40" x2="497.15" y2="442.60" stroke="#1c1a1b" stroke-width="1"/>
<text x="497.15" y="452.30" font-size="8.6" text-anchor="middle" textLength="17.60" lengthAdjust="spacingAndGlyphs">1000</text>
<text x="369.20" y="465.60" font-size="10.0" textLength="59.30" lengthAdjust="spacingAndGlyphs">FVIII dose (IU/kg)</text>
<text x="271.60" y="372.00" font-size="10.1" text-anchor="middle" textLength="56.10" lengthAdjust="spacingAndGlyphs" transform="rotate(-90 271.60 372.00)">Survival rate (%)</text>
<line x1="302.30" y1="417.50" x2="434.40" y2="321.00" stroke="#4f6eab" stroke-width="1.1"/>
<line x1="303.20" y1="423.70" x2="435.60" y2="312.10" stroke="#c8203e" stroke-width="1.15"/>
<path d="M301.6,423.8H303.4" stroke="#c8203e" stroke-width="1.1" fill="none"/>
<rect x="300.14" y="420.74" width="3.5" height="3.5" fill="#b0102c"/>
<rect x="335.10" y="398.80" width="3.5" height="3.5" fill="#b0102c"/>
<rect x="366.99" y="369.02" width="3.5" height="3.5" fill="#b0102c"/>
<rect x="401.95" y="326.62" width="3.5" height="3.5" fill="#b0102c"/>
<rect x="433.84" y="315.59" width="3.5" height="3.5" fill="#b0102c"/>
<circle cx="301.89" cy="414.03" r="1.85" fill="#1d3b80"/>
<circle cx="336.85" cy="400.55" r="1.85" fill="#3f4f96"/>
<circle cx="368.74" cy="367.95" r="1.85" fill="#1d3b80"/>
<circle cx="403.70" cy="332.05" r="1.85" fill="#1d3b80"/>
<circle cx="435.59" cy="326.04" r="1.85" fill="#1d3b80"/>
<line x1="330.00" y1="482.00" x2="338.80" y2="482.00" stroke="#c8203e" stroke-width="1"/>
<rect x="333.00" y="480.60" width="2.8" height="2.8" fill="#b0102c"/>
<text x="343.90" y="484.40" font-size="7.5" textLength="19.00" lengthAdjust="spacingAndGlyphs">rFVIII</text>
<text x="312.70" y="496.60" font-size="7.3" textLength="81.50" lengthAdjust="spacingAndGlyphs">y=20.074ln(x)+8.4809</text>
<text x="325.40" y="507.20" font-size="7.3" textLength="56.50" lengthAdjust="spacingAndGlyphs">ED<tspan font-size="4.9" dy="1.7">50</tspan><tspan dy="-1.7">=7.9 IU/kg</tspan></text>
<line x1="406.50" y1="482.00" x2="415.00" y2="482.00" stroke="#3c5d9c" stroke-width="1"/>
<path d="M410.75,480.50L412.25,482.00L410.75,483.50L409.25,482.00Z" stroke="none" stroke-width="0" fill="#1d3b80"/>
<text x="428.20" y="484.40" font-size="7.3" textLength="30.60" lengthAdjust="spacingAndGlyphs">BIVV001</text>
<text x="403.50" y="496.60" font-size="7.3" textLength="80.70" lengthAdjust="spacingAndGlyphs">y=17.251ln(x)+15.158</text>
<text x="415.70" y="509.80" font-size="7.3" textLength="55.80" lengthAdjust="spacingAndGlyphs">ED<tspan font-size="4.9" dy="1.7">50</tspan><tspan dy="-1.7">=7.5 IU/kg</tspan></text>
<rect x="0.6" y="0.6" width="518.8" height="566.8" fill="none" stroke="#000" stroke-width="1.3"/>
</svg>
</body></html>
